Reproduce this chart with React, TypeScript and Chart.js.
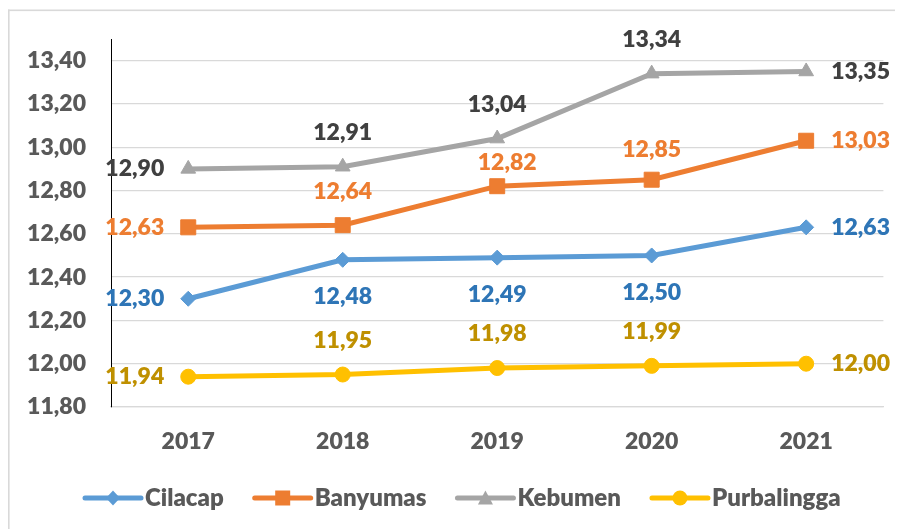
import React, { useEffect, useRef } from 'react';
import { Chart, registerables } from 'chart.js';

Chart.register(...registerables);

const years = ['2017', '2018', '2019', '2020', '2021'];
const cilacap = [12.3, 12.48, 12.49, 12.5, 12.63];
const banyumas = [12.63, 12.64, 12.82, 12.85, 13.03];
const kebumen = [12.9, 12.91, 13.04, 13.34, 13.35];
const purbalingga = [11.94, 11.95, 11.98, 11.99, 12.0];
const seriesNames = ['Cilacap', 'Banyumas', 'Kebumen', 'Purbalingga'];
const seriesValues = [cilacap, banyumas, kebumen, purbalingga];

const yMin = 11.8;
const yMax = 13.5;
const yTickValues = [11.8, 12.0, 12.2, 12.4, 12.6, 12.8, 13.0, 13.2, 13.4];

const lineColors = ['#5B9BD5', '#ED7D31', '#A5A5A5', '#FFC000'];
const labelColors = ['#2E75B6', '#ED7D31', '#404040', '#BF9000'];
const markerStyles = ['diamond', 'square', 'triangle', 'circle'];
const labelPlacement = [
  ['left', 'below', 'below', 'below', 'right'],
  ['left', 'above', 'above', 'above', 'right'],
  ['left', 'above', 'above', 'above', 'right'],
  ['left', 'above', 'above', 'above', 'right'],
];
// small manual nudges of individual labels [dx, dy]
const labelNudge: Record<string, [number, number]> = {
  '1-2': [10, 10],
  '1-3': [0, 4],
};

const FONT = 'Lato';
const WEIGHT = 800;
const fmt = (v: number) => v.toFixed(2).replace('.', ',');

function drawMarker(ctx: CanvasRenderingContext2D, style: string, x: number, y: number, color: string) {
  ctx.save();
  ctx.fillStyle = color;
  ctx.beginPath();
  if (style === 'diamond') {
    ctx.moveTo(x, y - 7.5);
    ctx.lineTo(x + 7, y);
    ctx.lineTo(x, y + 7.5);
    ctx.lineTo(x - 7, y);
    ctx.closePath();
  } else if (style === 'square') {
    ctx.rect(x - 7.5, y - 7.5, 15, 15);
  } else if (style === 'triangle') {
    ctx.moveTo(x, y - 7.5);
    ctx.lineTo(x + 7.5, y + 6.5);
    ctx.lineTo(x - 7.5, y + 6.5);
    ctx.closePath();
  } else {
    ctx.arc(x, y, 7.5, 0, Math.PI * 2);
  }
  ctx.fill();
  ctx.restore();
}

const frameAndLabels = {
  id: 'frameAndLabels',
  beforeDraw(chart: any) {
    const ctx = chart.ctx as CanvasRenderingContext2D;
    ctx.save();
    ctx.fillStyle = '#ffffff';
    ctx.fillRect(0, 0, chart.width, chart.height);
    ctx.fillStyle = '#D9D9D9';
    ctx.fillRect(0, 1.5, 1.6, chart.height);
    ctx.fillRect(0, 1.5, chart.width, 1.6);
    ctx.restore();
  },
  afterDatasetsDraw(chart: any) {
    const ctx = chart.ctx as CanvasRenderingContext2D;
    ctx.save();
    ctx.font = `${WEIGHT} 23px ${FONT}`;
    ctx.textBaseline = 'middle';
    chart.data.datasets.forEach((ds: any, di: number) => {
      const meta = chart.getDatasetMeta(di);
      meta.data.forEach((pt: any, i: number) => {
        const text = fmt(ds.data[i]);
        const pos = labelPlacement[di][i];
        const [nx, ny] = labelNudge[`${di}-${i}`] || [0, 0];
        ctx.fillStyle = labelColors[di];
        if (pos === 'left') {
          ctx.textAlign = 'right';
          ctx.fillText(text, pt.x - 24 + nx, pt.y + ny);
        } else if (pos === 'right') {
          ctx.textAlign = 'left';
          ctx.fillText(text, pt.x + 25 + nx, pt.y + ny);
        } else if (pos === 'above') {
          ctx.textAlign = 'center';
          ctx.fillText(text, pt.x + nx, pt.y - 34 + ny);
        } else {
          ctx.textAlign = 'center';
          ctx.fillText(text, pt.x + nx, pt.y + 37 + ny);
        }
      });
    });
    // legend
    const ly = 490;
    let x = 77;
    ctx.font = `${WEIGHT} 24px ${FONT}`;
    ctx.textAlign = 'left';
    chart.data.datasets.forEach((ds: any, di: number) => {
      ctx.strokeStyle = lineColors[di];
      ctx.lineWidth = 5;
      ctx.lineCap = 'round';
      ctx.beginPath();
      ctx.moveTo(x, ly);
      ctx.lineTo(x + 56, ly);
      ctx.stroke();
      drawMarker(ctx, markerStyles[di], x + 28, ly, lineColors[di]);
      ctx.fillStyle = '#595959';
      ctx.fillText(ds.label, x + 60, ly);
      x += 60 + ctx.measureText(ds.label).width + 31;
    });
    ctx.restore();
  },
};

const pointStyleMap: Record<string, string> = {
  diamond: 'rectRot',
  square: 'rect',
  triangle: 'triangle',
  circle: 'circle',
};
const pointRadiusMap: Record<string, number> = {
  diamond: 7.5,
  square: 10.6,
  triangle: 8.5,
  circle: 7.5,
};

export default function App() {
  const ref = useRef<HTMLCanvasElement | null>(null);
  useEffect(() => {
    if (!ref.current) return;
    const chart = new Chart(ref.current, {
      type: 'line',
      data: {
        labels: years,
        datasets: seriesNames.map((name, di) => ({
          label: name,
          data: seriesValues[di],
          borderColor: lineColors[di],
          backgroundColor: lineColors[di],
          borderWidth: 5,
          pointStyle: pointStyleMap[markerStyles[di]] as any,
          pointRadius: pointRadiusMap[markerStyles[di]],
          pointBackgroundColor: lineColors[di],
          pointBorderColor: lineColors[di],
          pointBorderWidth: 1,
          tension: 0,
          fill: false,
        })),
      },
      options: {
        animation: false,
        responsive: false,
        layout: { padding: { left: 0, top: 31, right: 9, bottom: 62 } },
        plugins: {
          legend: { display: false },
          tooltip: { enabled: false },
        },
        scales: {
          x: {
            offset: true,
            grid: { display: false, drawTicks: false },
            border: { display: true, color: '#D9D9D9', width: 1.3 },
            ticks: {
              color: '#595959',
              padding: 21,
              font: { family: FONT, size: 23, weight: WEIGHT as any },
            },
            afterFit: (axis: any) => {
              axis.height = 60;
              axis.paddingLeft = 0;
              axis.paddingRight = 0;
            },
          },
          y: {
            min: yMin,
            max: yMax,
            grid: { color: '#D9D9D9', lineWidth: 1.3, drawTicks: false },
            border: { display: true, color: '#000000', width: 1 },
            ticks: {
              color: '#595959',
              padding: 25,
              font: { family: FONT, size: 23, weight: WEIGHT as any },
              callback: (v: any) => fmt(Number(v)),
            },
            afterBuildTicks: (axis: any) => {
              axis.ticks = yTickValues.map((value) => ({ value }));
            },
            afterFit: (axis: any) => {
              axis.width = 103;
              axis.paddingTop = 0;
              axis.paddingBottom = 0;
            },
          },
        },
      },
      plugins: [frameAndLabels],
    });
    return () => chart.destroy();
  }, []);
  return (
    <div style={{ width: 887, height: 521 }}>
      <canvas ref={ref} width={887} height={521} style={{ display: 'block' }} />
    </div>
  );
}
